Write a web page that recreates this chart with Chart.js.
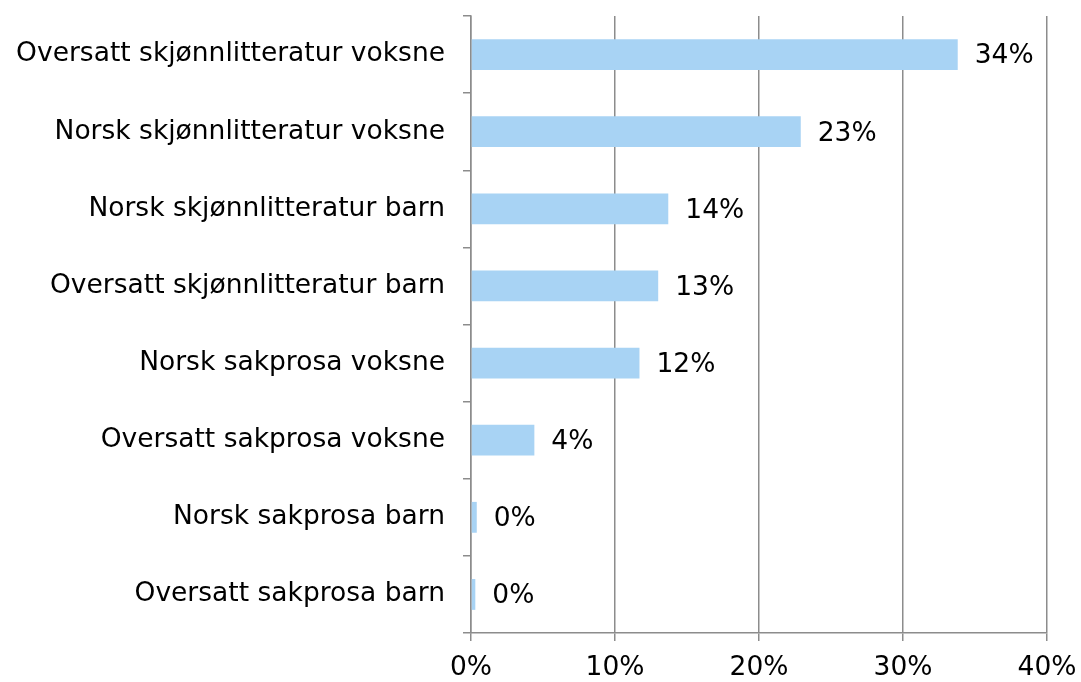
<!DOCTYPE html>
<html>
<head>
<meta charset="utf-8">
<script src="https://cdn.jsdelivr.net/npm/chart.js@4/dist/chart.umd.min.js"></script>
<style>
  html, body { margin: 0; padding: 0; background: #fff; }
  #wrap { width: 1081px; height: 682px; }
</style>
</head>
<body>
<div id="wrap"><canvas id="chart"></canvas></div>
<script>
const categories = [
  "Oversatt skjønnlitteratur voksne",
  "Norsk skjønnlitteratur voksne",
  "Norsk skjønnlitteratur barn",
  "Oversatt skjønnlitteratur barn",
  "Norsk sakprosa voksne",
  "Oversatt sakprosa voksne",
  "Norsk sakprosa barn",
  "Oversatt sakprosa barn"
];
const shares = [33.8, 22.9, 13.7, 13.0, 11.7, 4.4, 0.4, 0.3];
const shareLabels = ["34%", "23%", "14%", "13%", "12%", "4%", "0%", "0%"];
const xTicks = [0, 10, 20, 30, 40];

const axisGray = "#8c8c8c";
const fontFamily = "Verdana, 'DejaVu Sans', sans-serif";
const fontSize = 26.5;

// value labels placed just past the end of each bar
const barLabels = {
  id: "barLabels",
  afterDatasetsDraw(chart) {
    const ctx = chart.ctx;
    const meta = chart.getDatasetMeta(0);
    ctx.save();
    ctx.font = fontSize + "px " + fontFamily;
    ctx.fillStyle = "#000";
    ctx.textBaseline = "middle";
    ctx.textAlign = "left";
    meta.data.forEach((bar, i) => {
      ctx.fillText(shareLabels[i], bar.x + 17, bar.y + 2);
    });
    ctx.restore();
  }
};

new Chart(document.getElementById("chart"), {
  type: "bar",
  data: {
    labels: categories,
    datasets: [{
      data: shares,
      backgroundColor: "#a8d3f4",
      borderWidth: 0,
      categoryPercentage: 1,
      barPercentage: 0.4
    }]
  },
  options: {
    indexAxis: "y",
    responsive: true,
    maintainAspectRatio: false,
    animation: false,
    layout: { padding: { top: 16, right: 34, left: 0, bottom: 0 } },
    scales: {
      x: {
        min: 0,
        max: 40,
        afterBuildTicks: axis => { axis.ticks = xTicks.map(v => ({ value: v })); },
        afterFit: s => { s.height = 49; s.paddingLeft = 0; s.paddingRight = 0; },
        grid: { color: axisGray, lineWidth: 1.5, tickLength: 8, drawTicks: true },
        border: { color: axisGray, width: 1.5 },
        ticks: {
          color: "#000",
          font: { size: fontSize, family: fontFamily },
          padding: 11,
          maxRotation: 0,
          callback: v => v + "%"
        }
      },
      y: {
        afterFit: s => { s.width = 471; s.paddingTop = 0; s.paddingBottom = 0; },
        grid: { offset: true, drawOnChartArea: false, color: axisGray, lineWidth: 1.5, tickLength: 8 },
        border: { color: axisGray, width: 1.5 },
        ticks: {
          color: "#000",
          font: { size: fontSize, family: fontFamily },
          padding: 18
        }
      }
    },
    plugins: {
      legend: { display: false },
      tooltip: { enabled: false }
    }
  },
  plugins: [barLabels]
});
</script>
</body>
</html>
